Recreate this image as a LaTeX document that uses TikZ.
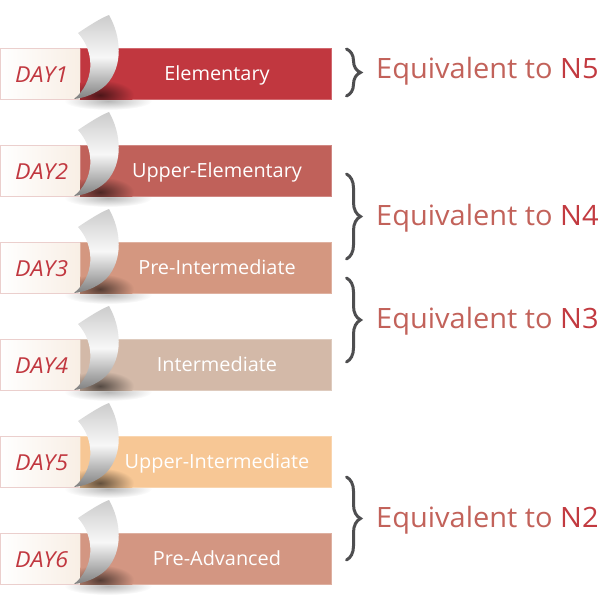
\documentclass[tikz,border=0pt]{standalone}
\usepackage{fontspec}
\setmainfont{Open Sans}
\newfontfamily\eqfont{Open Sans}[FakeStretch=1.035]
\newfontfamily\dayfont{Open Sans}[FakeStretch=1.055]
\newfontfamily\barfont{Open Sans}[FakeStretch=1.02]
\usetikzlibrary{decorations.pathreplacing}
\definecolor{cA}{HTML}{C1373F}
\definecolor{cB}{HTML}{C0615A}
\definecolor{cC}{HTML}{D49780}
\definecolor{cD}{HTML}{D3B9A8}
\definecolor{cE}{HTML}{F7C795}
\definecolor{cF}{HTML}{D39682}
\definecolor{dayred}{HTML}{C1373F}
\definecolor{eqtxt}{HTML}{C2625A}
\definecolor{ntxt}{HTML}{C23A40}
\definecolor{bracegray}{HTML}{4E4E50}
\definecolor{creamR}{HTML}{F8EEE4}
\definecolor{pinkline}{HTML}{EBCFCD}
\tikzset{
  barbox/.style={inner sep=0pt, minimum width=251pt, minimum height=51pt},
  bartext/.style={text=white, font=\barfont\fontsize{19.5}{22}\selectfont, anchor=base},
  daytext/.style={text=dayred, font=\dayfont\fontsize{22}{24}\selectfont\itshape, anchor=base west, inner sep=0pt},
  eqtext/.style={text=eqtxt, font=\eqfont\fontsize{28}{30}\selectfont, anchor=base west, inner sep=0pt},
  bracestyle/.style={draw=bracegray, line width=3pt, line cap=round, decorate,
     decoration={brace, amplitude=14pt, aspect=0.5}},
  curlshade/.style={top color=black!20, bottom color=black!50, middle color=black!3},
}
\newcommand\myrow[5]{%
  % soft shadow below bar
  \shade[inner color=black!28, outer color=white] (108,#1+53) ellipse (44pt and 9pt);
  % cream day panel
  \shade[left color=white, right color=creamR] (0,#1) rectangle (82,#1+51);
  \draw[pinkline, line width=0.7pt] (82,#1) -- (0.3,#1) -- (0.3,#1+51) -- (82,#1+51);
  % coloured bar
  \node[barbox, fill=#3, draw=#3!75!white, line width=0.6pt] (bar#2) at (205.5,#1+25.5) {};
  \begin{scope}
    \clip (80,#1) rectangle (331,#1+51);
    \shade[inner color=#3!40!black, outer color=#3] (100,#1+47) ellipse (34pt and 15pt);
  \end{scope}
  % page curl
  \shade[curlshade] (78,#1-15)
     .. controls (90,#1-23) and (101,#1-30) .. (109,#1-33)
     .. controls (121,#1-12) and (124,#1+18) .. (106,#1+37)
     .. controls (96,#1+46) and (84,#1+50) .. (74,#1+51)
     .. controls (94,#1+35) and (96,#1+5) .. cycle;
  \node[daytext] (day#2) at (15,#1+34) {#4};
  \node[bartext] (lab#2) at (217,#1+32) {#5};
}
\begin{document}
\begin{tikzpicture}[x=1pt,y=-1pt]
  \useasboundingbox (0,0) rectangle (599,614);
  \myrow{48}{1}{cA}{DAY1}{Elementary}
  \myrow{145}{2}{cB}{DAY2}{Upper-Elementary}
  \myrow{242}{3}{cC}{DAY3}{Pre-Intermediate}
  \myrow{339}{4}{cD}{DAY4}{Intermediate}
  \myrow{436}{5}{cE}{DAY5}{Upper-Intermediate}
  \myrow{533}{6}{cF}{DAY6}{Pre-Advanced}
  % braces
  \coordinate (b1t) at (346.5,49);  \coordinate (b1b) at (346.5,96);
  \coordinate (b2t) at (346.5,174); \coordinate (b2b) at (346.5,259);
  \coordinate (b3t) at (346.5,278); \coordinate (b3b) at (346.5,362);
  \coordinate (b4t) at (346.5,477); \coordinate (b4b) at (346.5,560);
  \draw[bracestyle] (b1t) -- (b1b);
  \draw[bracestyle] (b2t) -- (b2b);
  \draw[bracestyle] (b3t) -- (b3b);
  \draw[bracestyle] (b4t) -- (b4b);
  \node[eqtext] (eq5) at (376,78)  {Equivalent to \textcolor{ntxt}{N5}};
  \node[eqtext] (eq4) at (376,225) {Equivalent to \textcolor{ntxt}{N4}};
  \node[eqtext] (eq3) at (376,328) {Equivalent to \textcolor{ntxt}{N3}};
  \node[eqtext] (eq2) at (376,527) {Equivalent to \textcolor{ntxt}{N2}};
\end{tikzpicture}
\end{document}
